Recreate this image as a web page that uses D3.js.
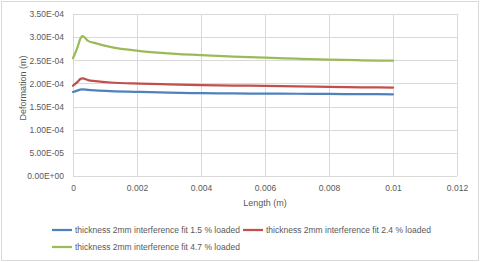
<!DOCTYPE html>
<html>
<head>
<meta charset="utf-8">
<script src="https://cdn.jsdelivr.net/npm/d3@7"></script>
<style>
  body { margin: 0; background: #fff; }
  text { font-family: "Liberation Sans Narrow", "Liberation Sans", sans-serif; fill: #595959; }
</style>
</head>
<body>
<div id="chart"></div>
<script>
// x positions (m) and deformation values (m) for each series
const lengths = [0, 0.00015, 0.00022, 0.0003, 0.00047, 0.0007, 0.00116, 0.0021, 0.003, 0.004, 0.005, 0.006, 0.007, 0.008, 0.009, 0.01];
const fit15 = [1.815e-4, 1.85e-4, 1.865e-4, 1.87e-4, 1.86e-4, 1.85e-4, 1.835e-4, 1.815e-4, 1.80e-4, 1.79e-4, 1.785e-4, 1.78e-4, 1.777e-4, 1.773e-4, 1.769e-4, 1.765e-4];
const fit24 = [1.95e-4, 2.04e-4, 2.09e-4, 2.11e-4, 2.07e-4, 2.05e-4, 2.02e-4, 1.995e-4, 1.98e-4, 1.965e-4, 1.955e-4, 1.945e-4, 1.935e-4, 1.925e-4, 1.917e-4, 1.91e-4];
const fit47 = [2.544e-4, 2.80e-4, 2.95e-4, 3.02e-4, 2.92e-4, 2.87e-4, 2.79e-4, 2.70e-4, 2.65e-4, 2.61e-4, 2.58e-4, 2.555e-4, 2.535e-4, 2.515e-4, 2.50e-4, 2.49e-4];
const seriesNames = [
  "thickness 2mm interference fit 1.5 % loaded",
  "thickness 2mm interference fit 2.4 % loaded",
  "thickness 2mm interference fit 4.7 % loaded"
];
const colors = ["#4f81bd", "#c0504d", "#9bbb59"];
const xTicks = [0, 0.002, 0.004, 0.006, 0.008, 0.01, 0.012];
const yTicks = [0, 5e-5, 1e-4, 1.5e-4, 2e-4, 2.5e-4, 3e-4, 3.5e-4];

function main() {
    const W = 480, H = 262;
    const svg = d3.select("#chart").append("svg")
        .attr("width", W)
        .attr("height", H);

    // chart border
    svg.append("rect")
        .attr("x", 1.5).attr("y", 1.5)
        .attr("width", W - 3).attr("height", H - 3)
        .attr("fill", "#fff")
        .attr("stroke", "#d9d9d9");

    const x = d3.scaleLinear().domain([0, 0.012]).range([73, 457]);
    const y = d3.scaleLinear().domain([0, 3.5e-4]).range([176, 14]);

    // gridlines
    svg.append("g").selectAll("line").data(yTicks).enter().append("line")
        .attr("x1", x(0)).attr("x2", x(0.012))
        .attr("y1", d => Math.round(y(d)) + 0.5).attr("y2", d => Math.round(y(d)) + 0.5)
        .attr("stroke", "#d9d9d9");
    svg.append("g").selectAll("line").data(xTicks).enter().append("line")
        .attr("y1", y(0)).attr("y2", y(3.5e-4))
        .attr("x1", d => Math.round(x(d)) + 0.5).attr("x2", d => Math.round(x(d)) + 0.5)
        .attr("stroke", "#d9d9d9");

    // axes labels
    const yAxis = d3.axisLeft(y).tickValues(yTicks).tickSize(0).tickPadding(9)
        .tickFormat(d => d.toExponential(2).replace("e", "E").replace(/E([+-])(\d)$/, "E$10$2"));
    const gy = svg.append("g").attr("transform", "translate(73,0)").call(yAxis);
    gy.select(".domain").remove();
    gy.selectAll("text").style("font-size", "8.5px").attr("fill", "#595959");

    const xAxis = d3.axisBottom(x).tickValues(xTicks).tickSize(0).tickPadding(9)
        .tickFormat(d => String(+d.toFixed(3)));
    const gx = svg.append("g").attr("transform", "translate(0,176)").call(xAxis);
    gx.select(".domain").remove();
    gx.selectAll("text").style("font-size", "8.5px").attr("fill", "#595959");

    svg.append("text")
        .attr("x", 265).attr("y", 206)
        .attr("text-anchor", "middle")
        .style("font-size", "9px")
        .text("Length (m)");
    svg.append("text")
        .attr("transform", "translate(26,88) rotate(-90)")
        .attr("text-anchor", "middle")
        .style("font-size", "9px")
        .text("Deformation (m)");

    // lines
    const allSeries = [fit15, fit24, fit47];
    const line = d3.line()
        .x((d, i) => x(lengths[i]))
        .y(d => y(d))
        .curve(d3.curveMonotoneX);
    svg.append("g").selectAll("path").data(allSeries).enter().append("path")
        .attr("d", line)
        .attr("fill", "none")
        .attr("stroke", (d, i) => colors[i])
        .attr("stroke-width", 2.25)
        .attr("stroke-linecap", "round");

    // legend
    const legendPos = [[52, 230], [243, 230], [52, 247]];
    const lg = svg.append("g").selectAll("g").data(seriesNames).enter().append("g")
        .attr("transform", (d, i) => `translate(${legendPos[i][0]},${legendPos[i][1]})`);
    lg.append("line")
        .attr("x1", 0).attr("x2", 20)
        .attr("stroke", (d, i) => colors[i])
        .attr("stroke-width", 2.25);
    lg.append("text")
        .attr("x", 23).attr("dy", "0.35em")
        .style("font-size", "8.5px")
        .text(d => d);
}
main();
</script>
</body>
</html>
